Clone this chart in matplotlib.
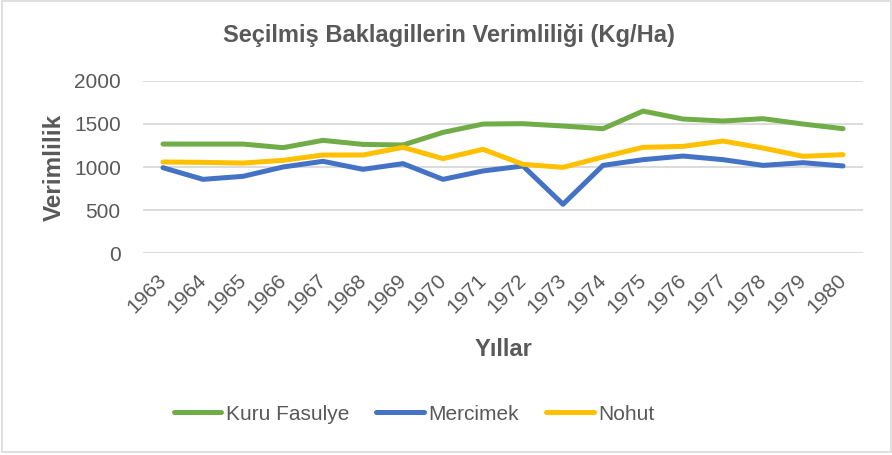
import matplotlib.pyplot as plt
from matplotlib.patches import Rectangle

years = [str(y) for y in range(1963, 1981)]
kuru_fasulye = [1266, 1266, 1266, 1224, 1309, 1262, 1255, 1401, 1498,
                1502, 1475, 1444, 1648, 1556, 1533, 1560, 1498, 1444]
mercimek = [992, 857, 892, 1000, 1066, 973, 1039, 857, 954,
            1012, 568, 1019, 1085, 1127, 1085, 1019, 1050, 1012]
nohut = [1058, 1054, 1046, 1077, 1139, 1139, 1228, 1097, 1205,
         1031, 996, 1116, 1228, 1239, 1301, 1220, 1124, 1143]
yticks = [0, 500, 1000, 1500, 2000]

plt.rcParams['font.family'] = ['Liberation Sans', 'DejaVu Sans']
txt = '#595959'

fig = plt.figure(figsize=(8.92, 4.55), dpi=100)
ax = fig.add_axes([0.1603, 0.4433, 0.8072, 0.3793])

# excel-ish line chart, categories centered between ticks
x = range(len(years))
ax.plot(x, kuru_fasulye, color='#70AD47', lw=3.6, label='Kuru Fasulye', solid_capstyle='round')
ax.plot(x, mercimek, color='#4472C4', lw=3.6, label='Mercimek', solid_capstyle='round')
ax.plot(x, nohut, color='#FFC000', lw=3.6, label='Nohut', solid_capstyle='round')

ax.set_xlim(-0.5, len(years) - 0.5)
ax.set_ylim(0, 2000)
ax.set_yticks(yticks)
ax.set_yticklabels([str(v) for v in yticks], fontsize=15, color=txt)
ax.set_xticks(list(x))
ax.set_xticklabels(years, fontsize=15, color=txt, rotation=45, ha='right',
                   va='center', rotation_mode='anchor')
ax.tick_params(axis='both', length=0)
ax.tick_params(axis='y', pad=16)
ax.tick_params(axis='x', pad=17)
ax.grid(axis='y', color='#D9D9D9', lw=1.3)
ax.set_axisbelow(True)
for s in ax.spines.values():
    s.set_visible(False)

ax.set_ylabel('Verimlilik', fontsize=17.5, fontweight='bold', color=txt)
ax.yaxis.set_label_coords(-0.107, 0.5)
ax.set_xlabel('Yıllar', fontsize=17, fontweight='bold', color=txt)
ax.xaxis.set_label_coords(0.5, -0.49)
fig.text(0.503, 0.923, 'Seçilmiş Baklagillerin Verimliliği (Kg/Ha)', ha='center', va='center',
         fontsize=17, fontweight='bold', color=txt)

fig.legend(loc='center', bbox_to_anchor=(0.464, 0.09), ncol=3, frameon=False,
           fontsize=15, labelcolor=txt, handlelength=2.3, handletextpad=0.2,
           columnspacing=1.3)

# light frame around the whole chart
fig.patches.append(Rectangle((0.0022, 0.0066), 0.9967, 0.9912, transform=fig.transFigure,
                             fill=False, edgecolor='#D9D9D9', lw=1.2))

fig.savefig('out.png', dpi=100)
